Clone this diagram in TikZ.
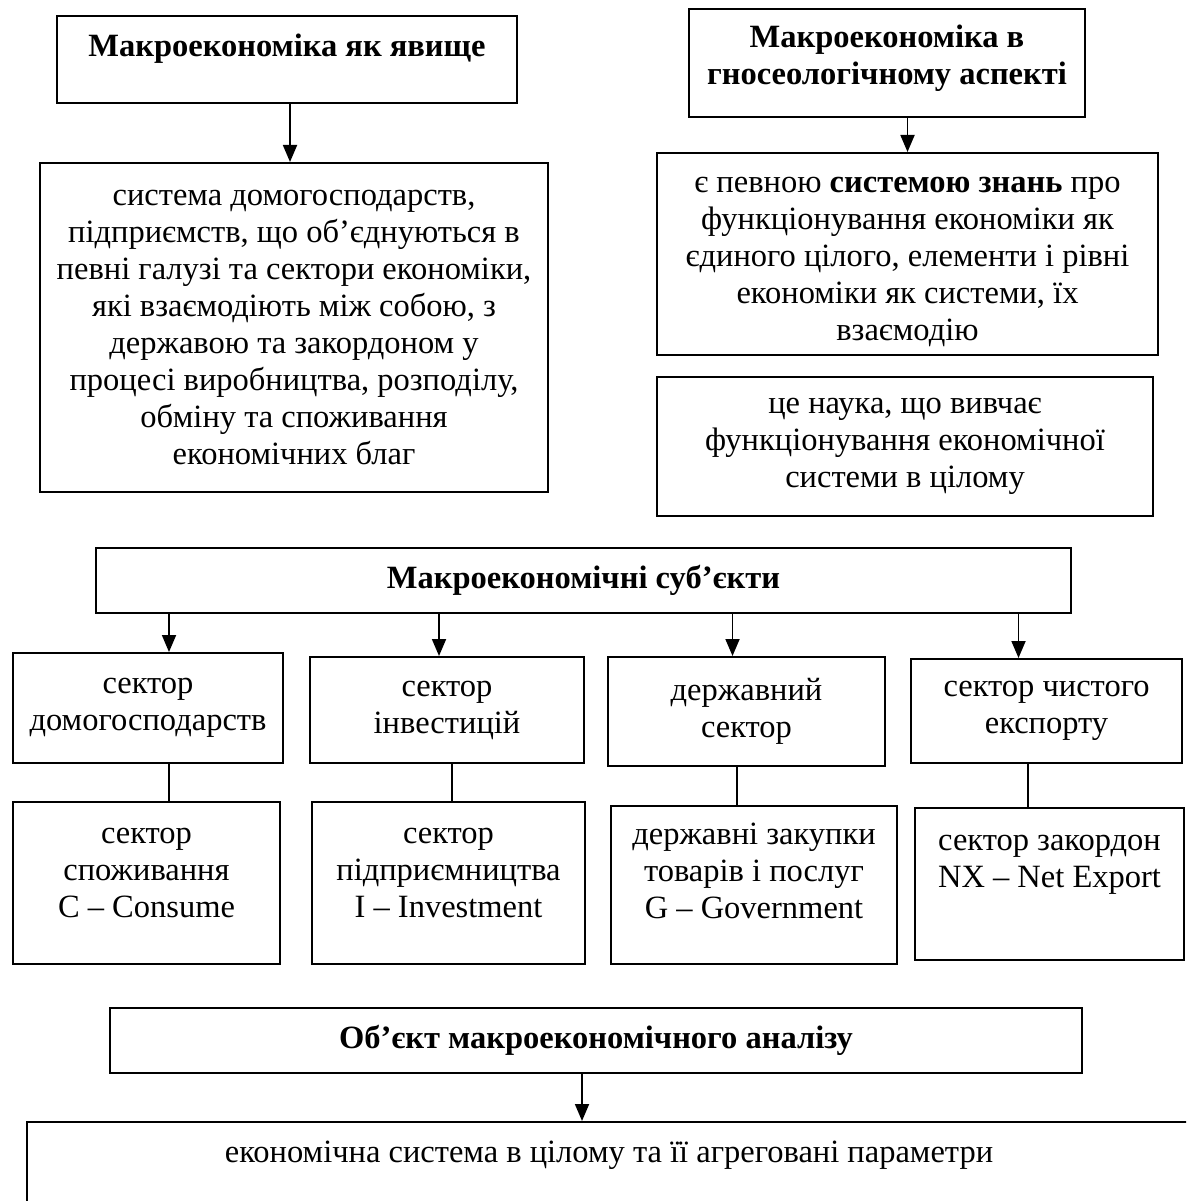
\documentclass[tikz,border=0pt]{standalone}
\usepackage{fontspec}
\setmainfont{Liberation Serif}
\usetikzlibrary{arrows.meta,positioning}
\newcommand{\padbelow}[1]{\rule[-#1]{0pt}{#1}}
\newcommand{\padabove}[1]{\rule{0pt}{#1}}

\begin{document}
\begin{tikzpicture}[x=1pt,y=-1pt,
      box/.style={draw,line width=2pt,inner sep=0pt,align=center,
        font=\fontsize{32.5pt}{37pt}\selectfont},
      head/.style={box,font=\fontsize{32.5pt}{37pt}\selectfont\bfseries},
      arr/.style={-{Triangle[length=17pt,width=14pt]},line width=1.8pt},
      link/.style={line width=1.4pt}]
      \useasboundingbox (0,0) rectangle (1186,1201);
      \clip (0,0) rectangle (1186,1201);
      \node[head,minimum width=460pt,minimum height=87pt] (phen) at (287,59.5) {Макроекономіка як явище\padbelow{29pt}};
      \node[box,minimum width=508pt,minimum height=329pt] (def1) at (294,327.5) {система домогосподарств,\\підприємств, що об’єднуються в\\певні галузі та сектори економіки,\\які взаємодіють між собою, з\\державою та закордоном у\\процесі виробництва, розподілу,\\обміну та споживання\\економічних благ};
      \node[head,minimum width=396pt,minimum height=108pt] (gnos) at (887,63) {Макроекономіка в\\гносеологічному аспекті\padbelow{17pt}};
      \node[box,minimum width=501pt,minimum height=202pt] (know) at (907.5,254) {\padabove{31pt}є певною \textbf{системою знань} про\\функціонування економіки як\\єдиного цілого, елементи і рівні\\економіки як системи, їх\\взаємодію};
      \node[box,minimum width=496pt,minimum height=139pt] (sci) at (905,446.5) {це наука, що вивчає\\функціонування економічної\\системи в цілому};
      \node[head,minimum width=975pt,minimum height=65pt] (subj) at (583.5,580.5) {Макроекономічні суб’єкти};
      \node[box,minimum width=270pt,minimum height=110pt] (hh) at (148,708) {сектор\\домогосподарств};
      \node[box,minimum width=274pt,minimum height=106pt] (inv) at (447,710) {сектор\\інвестицій};
      \node[box,minimum width=277pt,minimum height=109pt] (gov) at (746.5,711.5) {державний\\сектор};
      \node[box,minimum width=271pt,minimum height=104pt] (nx) at (1046.5,711) {сектор чистого\\експорту};
      \node[box,minimum width=267pt,minimum height=162pt] (cons) at (146.5,883) {сектор\\споживання\\C – Consume\padbelow{20pt}};
      \node[box,minimum width=273pt,minimum height=162pt] (bus) at (448.5,883) {сектор\\підприємництва\\I – Investment\padbelow{20pt}};
      \node[box,minimum width=286pt,minimum height=158pt] (pur) at (754,885) {державні закупки\\товарів і послуг\\G – Government\padbelow{28pt}};
      \node[box,minimum width=269pt,minimum height=152pt] (ext) at (1049.5,884) {сектор закордон\\NX – Net Export\padbelow{45pt}};
      \node[head,minimum width=972pt,minimum height=65pt] (obj) at (596,1040.5) {Об’єкт макроекономічного аналізу};
      \node[box,anchor=north west,minimum width=1164pt,minimum height=140pt] (agg) at (26,1121) {економічна система в цілому та її агреговані параметри\padbelow{80pt}};
      \coordinate (t1) at ([xshift=21pt]hh.north);
      \coordinate (t2) at ([xshift=-8pt]inv.north);
      \coordinate (t3) at ([xshift=-14pt]gov.north);
      \coordinate (t4) at ([xshift=-28pt]nx.north);
      \coordinate (l1) at ([xshift=21pt]hh.south);
      \coordinate (l2) at ([xshift=5pt]inv.south);
      \coordinate (l3) at ([xshift=-9.5pt]gov.south);
      \coordinate (l4) at ([xshift=-18.5pt]nx.south);
      \coordinate (t5) at ([xshift=-14pt]obj.south);
      \draw[arr] ([xshift=3pt]phen.south) -- ([xshift=3pt]phen.south |- def1.north);
      \draw[arr] (gnos.south -| know.north) -- (know.north);
      \draw[arr] (subj.south -| t1) -- (t1);
      \draw[arr] (subj.south -| t2) -- (t2);
      \draw[arr] (subj.south -| t3) -- (t3);
      \draw[arr] (subj.south -| t4) -- (t4);
      \draw[link] (l1) -- (l1 |- cons.north);
      \draw[link] (l2) -- (l2 |- bus.north);
      \draw[link] (l3) -- (l3 |- pur.north);
      \draw[link] (l4) -- (l4 |- ext.north);
      \draw[arr] (t5) -- (t5 |- agg.north);
    \end{tikzpicture}
\end{document}
